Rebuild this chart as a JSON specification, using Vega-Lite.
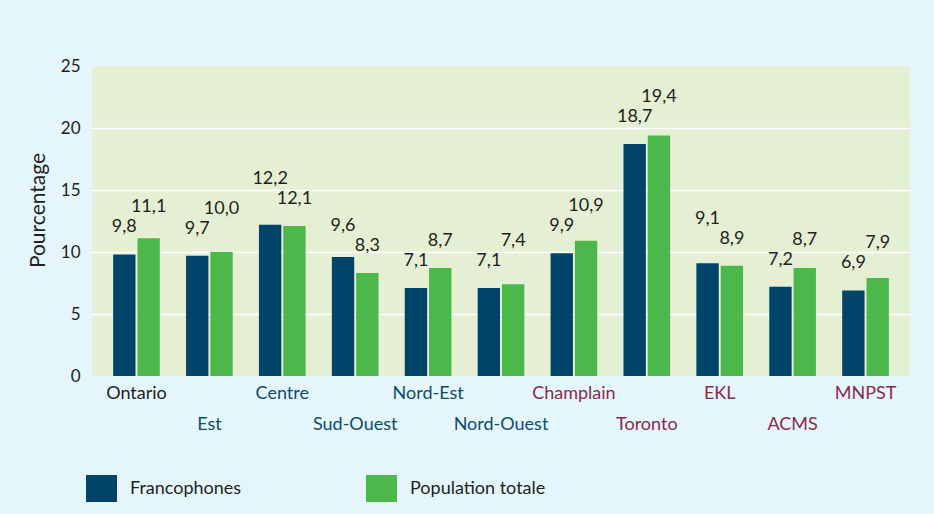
{
  "$schema": "https://vega.github.io/schema/vega-lite/v6.json",
  "width": 818,
  "height": 310,
  "autosize": {"type": "none"},
  "padding": {"left": 92, "top": 66, "right": 24, "bottom": 138},
  "background": "#e4f5fc",
  "config": {
    "font": "Lato",
    "view": {"fill": "#e5efd3", "stroke": null},
    "locale": {"number": {"decimal": ",", "thousands": " ", "grouping": [3], "currency": ["", " $"]}}
  },
  "data": {
    "values": [
      {"region": "Ontario", "group": "Francophones", "value": 9.8},
      {"region": "Ontario", "group": "Population totale", "value": 11.1},
      {"region": "Est", "group": "Francophones", "value": 9.7},
      {"region": "Est", "group": "Population totale", "value": 10.0},
      {"region": "Centre", "group": "Francophones", "value": 12.2},
      {"region": "Centre", "group": "Population totale", "value": 12.1},
      {"region": "Sud-Ouest", "group": "Francophones", "value": 9.6},
      {"region": "Sud-Ouest", "group": "Population totale", "value": 8.3},
      {"region": "Nord-Est", "group": "Francophones", "value": 7.1},
      {"region": "Nord-Est", "group": "Population totale", "value": 8.7},
      {"region": "Nord-Ouest", "group": "Francophones", "value": 7.1},
      {"region": "Nord-Ouest", "group": "Population totale", "value": 7.4},
      {"region": "Champlain", "group": "Francophones", "value": 9.9},
      {"region": "Champlain", "group": "Population totale", "value": 10.9},
      {"region": "Toronto", "group": "Francophones", "value": 18.7},
      {"region": "Toronto", "group": "Population totale", "value": 19.4},
      {"region": "EKL", "group": "Francophones", "value": 9.1},
      {"region": "EKL", "group": "Population totale", "value": 8.9},
      {"region": "ACMS", "group": "Francophones", "value": 7.2},
      {"region": "ACMS", "group": "Population totale", "value": 8.7},
      {"region": "MNPST", "group": "Francophones", "value": 6.9},
      {"region": "MNPST", "group": "Population totale", "value": 7.9}
    ]
  },
  "encoding": {
    "x": {
      "field": "region",
      "type": "nominal",
      "sort": null,
      "scale": {"paddingInner": 0.36, "paddingOuter": 0.29},
      "axis": {
        "title": null,
        "domain": false,
        "ticks": false,
        "labelAngle": 0,
        "labelFontSize": 18,
        "labelBaseline": "top",
        "labelPadding": {"condition": {"test": "indexof(['Est','Sud-Ouest','Nord-Ouest','Toronto','ACMS'], datum.value) >= 0", "value": 39}, "value": 8},
        "labelColor": {"condition": [
          {"test": "datum.value === 'Ontario'", "value": "#231f20"},
          {"test": "indexof(['Est','Centre','Sud-Ouest','Nord-Est','Nord-Ouest'], datum.value) >= 0", "value": "#0e4c6c"}
        ], "value": "#8c2a4a"}
      }
    },
    "xOffset": {"field": "group", "type": "nominal", "scale": {"paddingInner": 0.08}},
    "y": {
      "type": "quantitative",
      "scale": {"domain": [0, 25]},
      "axis": {
        "title": "Pourcentage",
        "titleFontSize": 21,
        "titleFontWeight": "normal",
        "titleColor": "#231f20",
        "titlePadding": 12,
        "titleY": 144,
        "values": [0, 5, 10, 15, 20, 25],
        "domain": false,
        "tickColor": "white",
        "tickSize": 2,
        "labelPadding": 10,
        "labelFontSize": 17,
        "labelColor": "#231f20",
        "gridColor": "white",
        "gridWidth": 1.5,
        "gridOpacity": {"condition": {"test": "datum.value === 0 || datum.value === 25", "value": 0}, "value": 1}
      }
    }
  },
  "layer": [
    {
      "mark": {"type": "bar"},
      "encoding": {
        "y": {"field": "value", "type": "quantitative"},
        "color": {
          "field": "group",
          "type": "nominal",
          "scale": {"domain": ["Francophones", "Population totale"], "range": ["#00446a", "#4cb84c"]},
          "legend": {
            "title": null,
            "orient": "none",
            "direction": "horizontal",
            "columns": 2,
            "legendX": -6,
            "legendY": 407,
            "symbolType": "M-1,-0.87H1V0.87H-1Z",
            "symbolSize": 961,
            "symbolStrokeWidth": 0,
            "symbolOpacity": 1,
            "labelFontSize": 18,
            "labelColor": "#231f20",
            "labelOffset": 13,
            "columnPadding": 124
          }
        }
      }
    },
    {
      "transform": [
        {"joinaggregate": [{"op": "max", "field": "value", "as": "maxv"}, {"op": "min", "field": "value", "as": "minv"}], "groupby": ["region"]},
        {"filter": "datum.value === datum.maxv"}
      ],
      "mark": {"type": "text", "baseline": "middle", "dy": -47, "fontSize": 18, "color": "#231f20"},
      "encoding": {
        "y": {"field": "minv", "type": "quantitative"},
        "text": {"field": "value", "type": "quantitative", "format": ".1f"}
      }
    },
    {
      "transform": [
        {"joinaggregate": [{"op": "max", "field": "value", "as": "maxv"}, {"op": "min", "field": "value", "as": "minv"}], "groupby": ["region"]},
        {"filter": "datum.value !== datum.maxv"}
      ],
      "mark": {"type": "text", "baseline": "middle", "dy": -27, "fontSize": 18, "color": "#231f20"},
      "encoding": {
        "y": {"field": "minv", "type": "quantitative"},
        "text": {"field": "value", "type": "quantitative", "format": ".1f"}
      }
    }
  ]
}
